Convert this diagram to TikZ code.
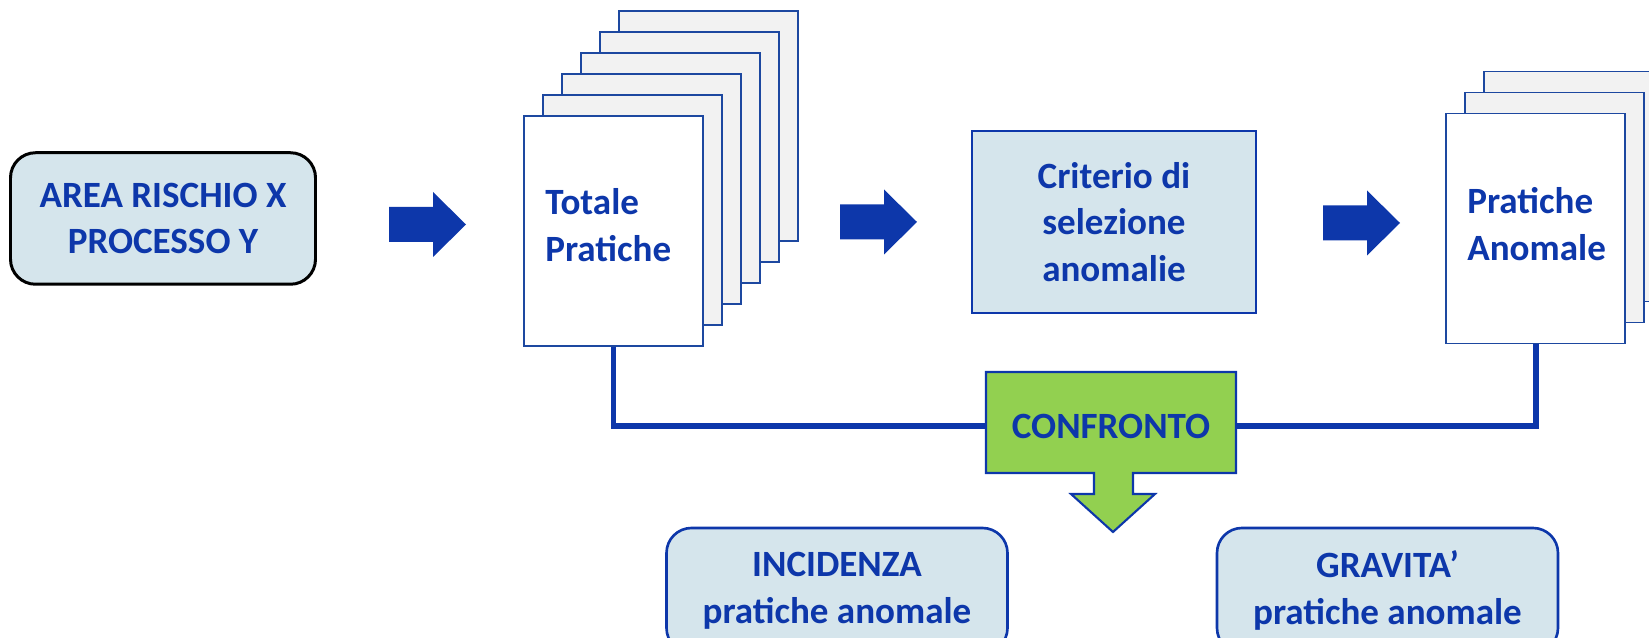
\documentclass[tikz,border=0pt]{standalone}
\usepackage{fontspec}
\setmainfont{Carlito}
\usepackage{xcolor}
\usepackage{tikz}
\usetikzlibrary{calc}
\definecolor{navy}{HTML}{0D37AA}
\definecolor{pageline}{HTML}{1D48A0}
\definecolor{boxfill}{HTML}{D5E5EC}
\definecolor{pagefill}{HTML}{F2F2F2}
\definecolor{lime}{HTML}{92D050}
\tikzset{
  lab/.style={text=navy, font=\fontsize{21.1}{26.5}\selectfont\bfseries, align=center},
  areabox/.style={draw=black, line width=1.7pt, rounded corners=0.5cm, fill=boxfill, minimum width=6.1cm, minimum height=2.63cm},
  resbox/.style={draw=navy, line width=1.5pt, rounded corners=0.5cm, fill=boxfill, minimum width=6.82cm, minimum height=2.5cm},
  selbox/.style={draw=navy, line width=1.6pt, fill=boxfill, minimum width=5.68cm, minimum height=3.64cm},
  page/.style={draw=pageline, line width=1.1pt, fill=white, minimum width=3.58cm, minimum height=4.6cm, inner sep=0pt},
  backpage/.style={page, fill=pagefill},
  link/.style={draw=navy, line width=3.4pt},
  rarrow/.pic={
    \fill[navy] (0,-0.35) -- (0.88,-0.35) -- (0.88,-0.65) -- (1.54,0)
      -- (0.88,0.65) -- (0.88,0.35) -- (0,0.35) -- cycle;
  }
}

\begin{document}
\begin{tikzpicture}
  \useasboundingbox (0,0) rectangle (32.98,12.76);
  \clip (0,0) rectangle (32.98,12.76);

  % Start
  \node[areabox, lab] (area) at (3.26,8.39) {AREA RISCHIO X\\PROCESSO Y};
  \pic (arr1) at (7.78,8.27) {rarrow};

  % Totale pratiche (stack of pages)
  \foreach \i in {5,...,1}
    \node[backpage] (tot\i) at ($(12.27,8.14)+\i*(0.38,0.42)$) {};
  \node[page] (tot) at (12.27,8.14) {};
  \node[lab, align=left, anchor=west, inner sep=0pt] (totlab) at (10.9,8.26) {Totale\\Pratiche};
  \pic (arr2) at (16.8,8.32) {rarrow};

  % Criterio
  \node[selbox, lab] (crit) at (22.28,8.32) {Criterio di\\selezione\\anomalie};
  \pic (arr3) at (26.46,8.3) {rarrow};

  % Pratiche anomale (stack of pages)
  \foreach \i in {2,1}
    \node[backpage] (anom\i) at ($(30.71,8.19)+\i*(0.38,0.42)$) {};
  \node[page] (anom) at (30.71,8.19) {};
  \node[lab, align=left, anchor=west, inner sep=0pt] (anomlab) at (29.34,8.28) {Pratiche\\Anomale};

  % Confronto
  \coordinate (cmp) at (22.22,4.24);
  \draw[link] (tot.south) -- (tot.south |- cmp) -- (anom.south |- cmp) -- (anom.south);
  \draw[draw=navy, line width=1.2pt, fill=lime, line join=miter]
    (19.72,5.32) -- (24.72,5.32) -- (24.72,3.3) -- (22.66,3.3) -- (22.66,2.88)
    -- (23.1,2.88) -- (22.26,2.12) -- (21.42,2.88) -- (21.88,2.88)
    -- (21.88,3.3) -- (19.72,3.3) -- cycle;
  \node[lab] (conf) at (cmp) {CONFRONTO};

  % Results
  \node[resbox, lab] (inc) at (16.74,0.95) {INCIDENZA\\pratiche anomale};
  \node[resbox, lab] (grav) at (27.75,0.95) {GRAVITA’\\pratiche anomale};
\end{tikzpicture}
\end{document}
